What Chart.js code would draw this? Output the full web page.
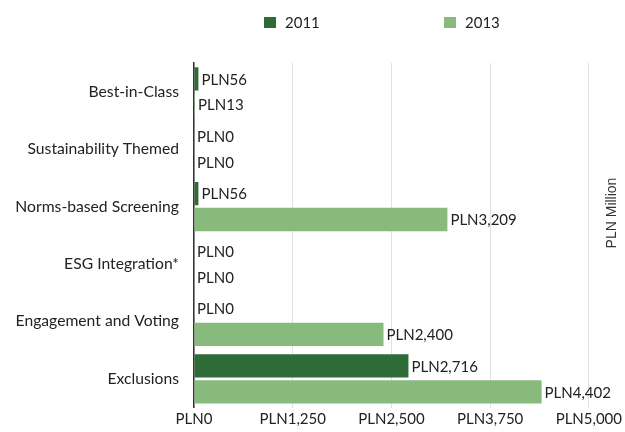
<!DOCTYPE html>
<html><head><meta charset="utf-8">
<script src="https://cdn.jsdelivr.net/npm/chart.js@4"></script>
<style>html,body{margin:0;padding:0;background:#fff}#wrap{width:625px;height:432px}</style>
</head><body><div id="wrap"><canvas id="c" width="625" height="432"></canvas></div>
<script>
const categories = ["Best-in-Class","Sustainability Themed","Norms-based Screening","ESG Integration*","Engagement and Voting","Exclusions"];
const series2011 = [56, 0, 56, 0, 0, 2716];
const series2013 = [13, 0, 3209, 0, 2400, 4402];
const seriesNames = ["2011","2013"];
const xTicks = [0, 1250, 2500, 3750, 5000];
const axisTitle = "PLN Million";
const colors = ["#2e6b36", "#88ba7e"];
const FONT = "Lato";

const fmt = v => "PLN" + v.toLocaleString("en-US");

const valueLabels = {
  id: "valueLabels",
  afterDatasetsDraw(chart) {
    const ctx = chart.ctx;
    ctx.save();
    ctx.font = "15px " + FONT;
    ctx.fillStyle = "#222";
    ctx.textBaseline = "middle";
    ctx.textAlign = "left";
    chart.data.datasets.forEach((ds, i) => {
      chart.getDatasetMeta(i).data.forEach((bar, j) => {
        ctx.fillText(fmt(ds.data[j]), bar.x + 3, bar.y + 1);
      });
    });
    ctx.restore();
  }
};

const topLegend = {
  id: "topLegend",
  afterDraw(chart) {
    const ctx = chart.ctx;
    ctx.save();
    ctx.font = "15px " + FONT;
    ctx.textBaseline = "middle";
    const xs = [264, 444];
    chart.data.datasets.forEach((ds, i) => {
      ctx.fillStyle = ds.backgroundColor;
      ctx.fillRect(xs[i], 17, 12, 11);
      ctx.fillStyle = "#222";
      ctx.fillText(ds.label, xs[i] + 21, 23);
    });
    ctx.translate(612, 213);
    ctx.rotate(-Math.PI / 2);
    ctx.textAlign = "center";
    ctx.font = "14px 'Liberation Sans'";
    ctx.fillStyle = "#333";
    ctx.fillText(axisTitle, 0, 0);
    ctx.restore();
  }
};

new Chart(document.getElementById("c"), {
  type: "bar",
  data: {
    labels: categories,
    datasets: [
      { label: seriesNames[0], data: series2011, backgroundColor: colors[0], categoryPercentage: 0.9, barPercentage: 0.9 },
      { label: seriesNames[1], data: series2013, backgroundColor: colors[1], categoryPercentage: 0.9, barPercentage: 0.9 }
    ]
  },
  options: {
    indexAxis: "y",
    responsive: false,
    animation: false,
    layout: { padding: { top: 63, left: 0, right: 0, bottom: 0 } },
    plugins: { legend: { display: false }, tooltip: { enabled: false } },
    scales: {
      x: {
        min: 0, max: 5000,
        afterBuildTicks(s) { s.ticks = xTicks.map(v => ({ value: v })); },
        ticks: { callback: v => fmt(v), font: { family: FONT, size: 15 }, color: "#222", padding: 3, maxRotation: 0 },
        grid: { color: "#e2e2e2", drawTicks: false, lineWidth: 1 },
        border: { display: false }
      },
      y: {
        afterFit(s) { s.width = 194; },
        ticks: { font: { family: FONT, size: 15.7 }, color: "#222", padding: 15 },
        grid: { display: false, drawTicks: false },
        border: { display: true, color: "#333", width: 1.5 }
      }
    }
  },
  plugins: [valueLabels, topLegend]
});
</script>
</body></html>
